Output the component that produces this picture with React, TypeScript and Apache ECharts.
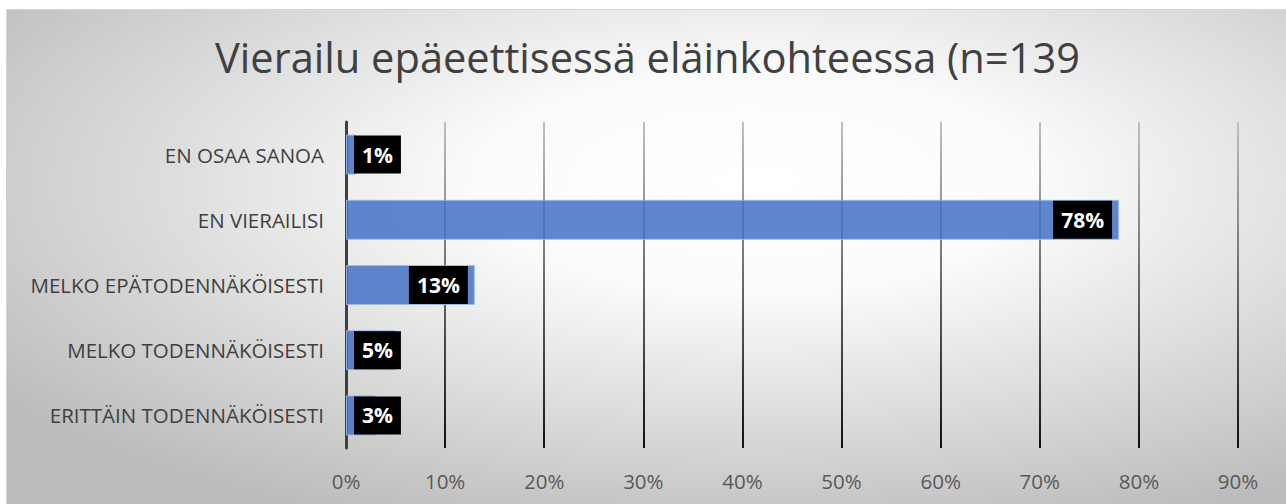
import React, { useEffect, useRef } from "react";
import * as echarts from "echarts";

const titleText = "Vierailu epäeettisessä eläinkohteessa (n=139";
const categories = [
  "ERITTÄIN TODENNÄKÖISESTI",
  "MELKO TODENNÄKÖISESTI",
  "MELKO EPÄTODENNÄKÖISESTI",
  "EN VIERAILISI",
  "EN OSAA SANOA",
];
const values = [3, 5, 13, 78, 1];
// drawn bar lengths in the source chart (labels show rounded shares above)
const barLengths = [3, 5, 13, 78, 1];
const axisMax = 90;
const axisInterval = 10;

const FONT = "'Open Sans', 'Noto Sans', sans-serif";

export default function App() {
  const ref = useRef<HTMLDivElement>(null);
  useEffect(() => {
    if (!ref.current) return;
    const chart = echarts.init(ref.current, null, { renderer: "svg" });
    const gridTop = 122;
    const gridBottom = 56;
    const data = barLengths.map((v, i) => ({
      value: v,
      label: {
        position: v >= 10 ? "insideRight" : "insideLeft",
        distance: v >= 10 ? 7 : 8,
        formatter: () => values[i] + "%",
      },
    }));
    chart.setOption({
      animation: false,
      backgroundColor: "transparent",
      graphic: [
        {
          type: "rect",
          z: -10,
          silent: true,
          shape: { x: 6.5, y: 9.5, width: 1290, height: 510 },
          style: {
            fill: new echarts.graphic.RadialGradient(0.58, 0.34, 0.72, [
              { offset: 0, color: "#ffffff" },
              { offset: 0.3, color: "#fbfbfb" },
              { offset: 1, color: "#bcbcbc" },
            ]),
            stroke: "#d4d4d4",
            lineWidth: 1,
          },
        },
      ],
      title: {
        text: titleText,
        left: 210,
        top: 31,
        textStyle: {
          fontFamily: FONT,
          fontSize: 41.6,
          fontWeight: "normal",
          color: "#404040",
        },
      },
      grid: { left: 346, right: 48, top: gridTop, bottom: gridBottom, containLabel: false },
      xAxis: {
        type: "value",
        min: 0,
        max: axisMax,
        interval: axisInterval,
        axisLine: { show: false },
        axisTick: { show: false },
        axisLabel: {
          formatter: "{value}%",
          fontFamily: FONT,
          fontSize: 20.5,
          color: "#595959",
          margin: 22,
        },
        splitLine: {
          show: true,
          lineStyle: {
            width: 2,
            color: new echarts.graphic.LinearGradient(
              0,
              gridTop,
              0,
              504 - gridBottom,
              [
                { offset: 0, color: "#c0c0c0" },
                { offset: 1, color: "#111111" },
              ],
              true
            ),
          },
        },
      },
      yAxis: {
        type: "category",
        data: categories,
        axisLine: { show: true, lineStyle: { color: "#404040", width: 3 } },
        axisTick: { show: false },
        axisLabel: {
          fontFamily: FONT,
          fontSize: 20.5,
          color: "#404040",
          margin: 22,
        },
        splitLine: { show: false },
      },
      series: [
        {
          type: "bar",
          data,
          barWidth: 40,
          itemStyle: {
            color: "rgba(68,114,196,0.85)",
            borderColor: "rgba(160,185,230,0.9)",
            borderWidth: 1,
          },
          label: {
            show: true,
            fontFamily: FONT,
            fontSize: 21,
            fontWeight: "bold",
            color: "#ffffff",
            backgroundColor: "#000000",
            padding: [9, 8, 9, 8],
            lineHeight: 20,
          },
        },
      ],
    });
    return () => chart.dispose();
  }, []);
  return (
    <div
      ref={ref}
      style={{ position: "absolute", left: 0, top: 0, width: 1286, height: 504 }}
    />
  );
}
